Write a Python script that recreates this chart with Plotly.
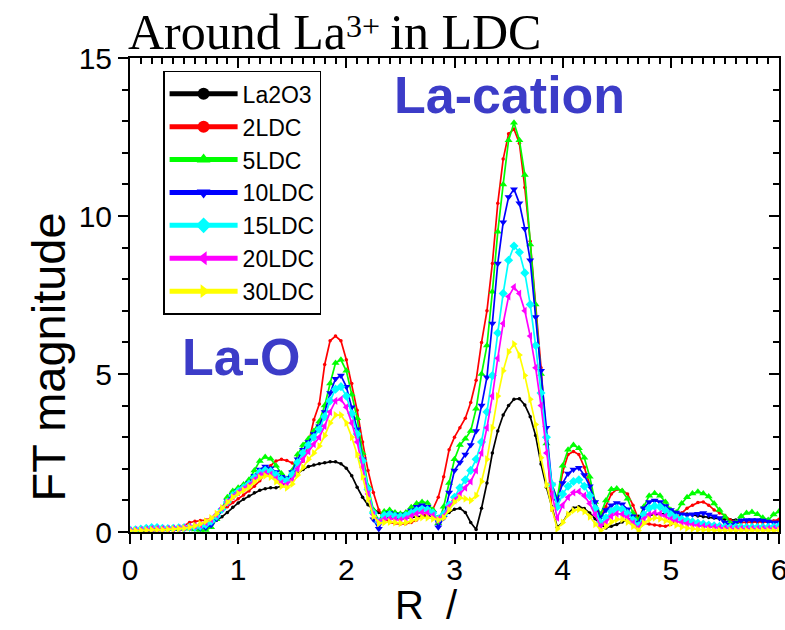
import numpy as np
import plotly.graph_objects as go

# Radial grid of the Fourier transform (R in Angstrom)
r_grid = np.round(np.arange(0, 6.0001, 0.05), 2)

la2o3 = [0.02, 0.03, 0.03, 0.04, 0.04, 0.05, 0.05, 0.05, 0.06, 0.07,
         0.08, 0.10, 0.13, 0.17, 0.22, 0.28, 0.37, 0.48, 0.62, 0.78,
         0.92, 1.04, 1.14, 1.24, 1.32, 1.37, 1.40, 1.40, 1.45, 1.58,
         1.72, 1.86, 1.98, 2.07, 2.12, 2.16, 2.19, 2.22, 2.22, 2.16,
         2.02, 1.78, 1.42, 1.10, 0.86, 0.72, 0.62, 0.52, 0.45, 0.42,
         0.42, 0.44, 0.47, 0.50, 0.52, 0.52, 0.50, 0.48, 0.55, 0.62,
         0.72, 0.75, 0.62, 0.30, 0.08, 0.75, 1.55, 2.50, 3.20, 3.70,
         4.00, 4.20, 4.22, 4.02, 3.65, 3.05, 2.15, 1.42, 0.80, 0.15,
         0.30, 0.58, 0.76, 0.80, 0.74, 0.60, 0.42, 0.24, 0.13, 0.18,
         0.24, 0.32, 0.40, 0.46, 0.50, 0.52, 0.54, 0.56, 0.58, 0.59,
         0.60, 0.60, 0.59, 0.57, 0.54, 0.51, 0.48, 0.46, 0.44, 0.42,
         0.40, 0.39, 0.38, 0.37, 0.36, 0.35, 0.34, 0.33, 0.33, 0.34,
         0.35]

ldc2 = [0.03, 0.04, 0.04, 0.05, 0.06, 0.06, 0.07, 0.08, 0.10, 0.14,
        0.20, 0.30, 0.34, 0.36, 0.38, 0.44, 0.55, 0.68, 0.80, 0.93,
        1.05, 1.17, 1.30, 1.45, 1.62, 1.85, 2.10, 2.25, 2.30, 2.26,
        2.18, 2.10, 2.25, 2.80, 3.55, 4.05, 5.30, 6.05, 6.20, 6.05,
        5.45, 4.70, 3.85, 2.85, 1.95, 1.25, 0.70, 0.45, 0.30, 0.27,
        0.25, 0.26, 0.30, 0.38, 0.48, 0.60, 0.72, 1.10, 1.75, 2.60,
        3.00, 3.30, 3.60, 4.10, 4.80, 6.00, 7.00, 8.50, 10.40, 11.80,
        12.60, 12.75, 12.30, 10.90, 9.20, 7.20, 5.20, 2.90, 0.70, 0.90,
        1.90, 2.45, 2.55, 2.45, 2.05, 1.50, 0.85, 0.45, 0.80, 1.20,
        1.35, 1.32, 1.20, 0.85, 0.40, 0.28, 0.25, 0.22, 0.20, 0.18,
        0.24, 0.40, 0.60, 0.75, 0.85, 0.93, 0.95, 0.85, 0.70, 0.60,
        0.52, 0.38, 0.32, 0.30, 0.30, 0.30, 0.30, 0.30, 0.32, 0.35,
        0.40]

ldc5 = [0.05, 0.06, 0.08, 0.10, 0.12, 0.14, 0.12, 0.10, 0.12, 0.15,
        0.13, 0.10, 0.08, 0.06, 0.06, 0.15, 0.40, 0.75, 1.10, 1.30,
        1.40, 1.50, 1.65, 1.95, 2.25, 2.37, 2.32, 2.10, 1.85, 1.68,
        1.95, 2.45, 2.75, 2.95, 3.20, 3.50, 4.00, 4.70, 5.35, 5.45,
        5.10, 4.35, 3.60, 2.50, 1.45, 0.70, 0.35, 0.65, 0.70, 0.62,
        0.58, 0.62, 0.78, 0.90, 0.95, 0.92, 0.70, 0.28, 0.80, 1.55,
        2.30, 2.75, 2.95, 3.20, 3.90, 5.00, 5.90, 7.60, 9.50, 11.00,
        12.40, 12.95, 12.40, 11.30, 9.10, 7.20, 5.00, 2.80, 1.50, 1.05,
        2.10, 2.60, 2.75, 2.65, 2.35, 1.75, 0.95, 0.55, 1.00, 1.35,
        1.38, 1.30, 1.05, 0.60, 0.38, 0.80, 1.15, 1.23, 1.15, 0.95,
        0.70, 0.62, 0.90, 1.10, 1.22, 1.27, 1.22, 1.12, 0.90, 0.70,
        0.48, 0.28, 0.30, 0.50, 0.60, 0.63, 0.56, 0.45, 0.38, 0.55,
        0.65]

ldc10 = [0.05, 0.06, 0.07, 0.08, 0.09, 0.10, 0.10, 0.10, 0.11, 0.12,
         0.13, 0.13, 0.12, 0.12, 0.14, 0.22, 0.42, 0.70, 0.98, 1.18,
         1.30, 1.42, 1.55, 1.78, 1.98, 2.07, 2.02, 1.90, 1.75, 1.70,
         1.90, 2.30, 2.60, 2.85, 3.10, 3.35, 3.80, 4.40, 4.85, 4.95,
         4.60, 3.95, 3.25, 2.30, 1.30, 0.40, 0.10, 0.50, 0.60, 0.55,
         0.50, 0.55, 0.68, 0.80, 0.85, 0.80, 0.60, 0.15, 0.45, 1.25,
         1.95, 2.20, 2.45, 2.75, 3.20, 4.00, 4.90, 6.60, 8.50, 9.80,
         10.60, 10.85, 10.40, 9.60, 8.60, 6.80, 5.10, 3.30, 1.50, 1.00,
         1.55, 1.85, 1.98, 2.03, 1.80, 1.45, 0.95, 0.45, 0.70, 0.85,
         0.92, 0.88, 0.72, 0.50, 0.28, 0.75, 0.95, 1.00, 0.95, 0.82,
         0.70, 0.62, 0.56, 0.54, 0.56, 0.58, 0.60, 0.55, 0.50, 0.44,
         0.30, 0.22, 0.30, 0.36, 0.38, 0.38, 0.38, 0.36, 0.33, 0.30,
         0.30]

ldc15 = [0.06, 0.07, 0.09, 0.12, 0.14, 0.14, 0.12, 0.11, 0.12, 0.13,
         0.14, 0.15, 0.16, 0.18, 0.24, 0.34, 0.50, 0.72, 0.95, 1.15,
         1.28, 1.40, 1.52, 1.72, 1.88, 1.95, 1.92, 1.80, 1.66, 1.62,
         1.82, 2.20, 2.50, 2.75, 3.00, 3.25, 3.65, 4.15, 4.52, 4.60,
         4.30, 3.75, 3.10, 2.25, 1.35, 0.60, 0.32, 0.52, 0.55, 0.50,
         0.48, 0.52, 0.60, 0.68, 0.72, 0.70, 0.60, 0.42, 0.55, 0.85,
         1.10, 1.40, 1.65, 1.95, 2.30, 2.85, 3.80, 4.95, 6.30, 7.55,
         8.60, 9.05, 8.85, 8.20, 7.20, 5.90, 4.40, 3.00, 1.50, 0.80,
         1.20, 1.45, 1.60, 1.65, 1.45, 1.15, 0.75, 0.30, 0.45, 0.65,
         0.75, 0.72, 0.58, 0.38, 0.20, 0.55, 0.75, 0.82, 0.80, 0.68,
         0.55, 0.45, 0.40, 0.36, 0.32, 0.28, 0.25, 0.22, 0.20, 0.18,
         0.16, 0.15, 0.15, 0.15, 0.15, 0.15, 0.15, 0.15, 0.15, 0.16,
         0.18]

ldc20 = [0.05, 0.06, 0.07, 0.08, 0.10, 0.10, 0.10, 0.10, 0.11, 0.12,
         0.14, 0.16, 0.19, 0.23, 0.30, 0.40, 0.55, 0.75, 0.95, 1.12,
         1.25, 1.36, 1.48, 1.65, 1.80, 1.86, 1.82, 1.68, 1.55, 1.50,
         1.65, 2.00, 2.30, 2.55, 2.78, 3.00, 3.35, 3.80, 4.15, 4.20,
         3.95, 3.45, 2.85, 2.05, 1.20, 0.55, 0.32, 0.40, 0.42, 0.40,
         0.38, 0.42, 0.50, 0.58, 0.62, 0.60, 0.52, 0.40, 0.50, 0.80,
         1.00, 1.20, 1.40, 1.60, 1.95, 2.50, 3.30, 4.30, 5.50, 6.60,
         7.45, 7.75, 7.55, 7.00, 6.20, 5.20, 4.00, 2.50, 1.20, 0.45,
         0.85, 1.10, 1.25, 1.28, 1.15, 0.90, 0.55, 0.18, 0.30, 0.50,
         0.58, 0.56, 0.45, 0.28, 0.12, 0.40, 0.55, 0.60, 0.58, 0.50,
         0.40, 0.34, 0.30, 0.26, 0.22, 0.20, 0.18, 0.16, 0.15, 0.13,
         0.12, 0.11, 0.10, 0.10, 0.10, 0.10, 0.10, 0.10, 0.10, 0.11,
         0.12]

ldc30 = [0.04, 0.05, 0.05, 0.06, 0.07, 0.07, 0.07, 0.08, 0.09, 0.10,
         0.12, 0.15, 0.20, 0.26, 0.34, 0.44, 0.58, 0.76, 0.94, 1.10,
         1.22, 1.32, 1.42, 1.58, 1.72, 1.78, 1.74, 1.60, 1.45, 1.40,
         1.52, 1.80, 2.05, 2.30, 2.50, 2.72, 3.05, 3.45, 3.70, 3.70,
         3.45, 3.00, 2.45, 1.75, 1.05, 0.50, 0.28, 0.30, 0.32, 0.30,
         0.28, 0.30, 0.36, 0.42, 0.46, 0.45, 0.42, 0.38, 0.45, 0.70,
         0.95, 1.08, 1.05, 1.00, 1.15, 1.60, 2.30, 3.30, 4.30, 5.10,
         5.70, 5.95, 5.60, 4.95, 4.20, 3.40, 2.35, 1.50, 0.75, 0.10,
         0.30, 0.55, 0.68, 0.72, 0.65, 0.48, 0.25, 0.05, 0.18, 0.32,
         0.40, 0.40, 0.32, 0.18, 0.05, 0.28, 0.40, 0.45, 0.42, 0.36,
         0.28, 0.22, 0.16, 0.12, 0.10, 0.08, 0.07, 0.06, 0.05, 0.05,
         0.05, 0.05, 0.05, 0.05, 0.05, 0.05, 0.05, 0.05, 0.05, 0.05,
         0.05]

series_names = ["La2O3", "2LDC", "5LDC", "10LDC", "15LDC", "20LDC", "30LDC"]
series_values = [la2o3, ldc2, ldc5, ldc10, ldc15, ldc20, ldc30]
series_colors = ["#000000", "#ff0000", "#00ff00", "#0000ff", "#00ffff", "#ff00ff", "#ffff00"]
series_symbols = ["circle", "circle", "triangle-up", "triangle-down", "diamond",
                  "triangle-left", "triangle-right"]
series_sizes = [3.5, 3.5, 7, 7, 7, 7, 7]

fig = go.Figure()
for name, vals, col, sym, sz in zip(series_names, series_values, series_colors,
                                    series_symbols, series_sizes):
    fig.add_trace(go.Scatter(
        x=r_grid, y=vals, name=name, mode="lines+markers",
        line=dict(color=col, width=1.7),
        marker=dict(color=col, symbol=sym, size=sz, line=dict(width=0)),
    ))

# empty traces that attach the mirrored top/right frame axes
fig.add_trace(go.Scatter(x=[], y=[], xaxis="x2", yaxis="y", showlegend=False, hoverinfo="skip"))
fig.add_trace(go.Scatter(x=[], y=[], xaxis="x", yaxis="y2", showlegend=False, hoverinfo="skip"))

tick_font = dict(family="Liberation Sans, Arial, sans-serif", size=30, color="black")
base_axis = dict(showgrid=False, zeroline=False, showline=True, linecolor="black",
                 linewidth=2, tickcolor="black", tickwidth=2, ticklen=10, automargin=False)

fig.update_layout(
    width=785, height=630,
    margin=dict(l=130, r=6, t=58, b=98),
    paper_bgcolor="white", plot_bgcolor="white",
    xaxis=dict(base_axis, range=[0, 6], dtick=1, tick0=0, ticks="outside",
               tickfont=tick_font, ticklabeloverflow="allow",
               minor=dict(dtick=0.1, ticks="outside", ticklen=6, tickwidth=1.5, tickcolor="black")),
    yaxis=dict(base_axis, range=[0, 15], dtick=5, tick0=0, ticks="outside",
               tickfont=tick_font,
               minor=dict(dtick=1, ticks="outside", ticklen=6, tickwidth=1.5, tickcolor="black")),
    xaxis2=dict(base_axis, range=[0, 6], dtick=1, tick0=0, ticks="inside",
                overlaying="x", side="top", anchor="y", showticklabels=False,
                minor=dict(dtick=0.1, ticks="inside", ticklen=6, tickwidth=1.5, tickcolor="black")),
    yaxis2=dict(base_axis, range=[0, 15], dtick=5, tick0=0, ticks="inside",
                overlaying="y", side="right", anchor="x", showticklabels=False,
                minor=dict(dtick=1, ticks="inside", ticklen=6, tickwidth=1.5, tickcolor="black")),
    legend=dict(x=0.051, y=0.973, xanchor="left", yanchor="top",
                bgcolor="white", bordercolor="black", borderwidth=1.5,
                font=dict(family="Liberation Sans, Arial, sans-serif", size=23, color="black"),
                itemwidth=68, itemsizing="constant"),
    showlegend=True,
)

title_font = dict(family="Liberation Serif, Times New Roman, serif", color="black")


def px_x(p):
    return (p - 130) / 649


# Title built from three pieces so the "3+" superscript sits at its own height
fig.add_annotation(text="Around La", xref="paper", yref="paper", x=px_x(126), y=1.0,
                   xanchor="left", yanchor="bottom", yshift=-4, showarrow=False,
                   font=dict(title_font, size=50))
fig.add_annotation(text="3+", xref="paper", yref="paper", x=px_x(344), y=1.0,
                   xanchor="left", yanchor="bottom", yshift=12, showarrow=False,
                   font=dict(title_font, size=32))
fig.add_annotation(text="in LDC", xref="paper", yref="paper", x=px_x(388), y=1.0,
                   xanchor="left", yanchor="bottom", yshift=-4, showarrow=False,
                   font=dict(title_font, size=50))

label_font = dict(family="Liberation Sans, Arial, sans-serif", color="black")
fig.add_annotation(text="FT magnitude", xref="paper", yref="paper", x=-0.125, y=0.37,
                   textangle=-90, showarrow=False, xanchor="center", yanchor="middle",
                   font=dict(label_font, size=47))
fig.add_annotation(text="R  /", xref="paper", yref="paper", x=px_x(393), y=-0.155,
                   xanchor="left", yanchor="middle", showarrow=False,
                   font=dict(label_font, size=40))
fig.add_annotation(text="<b>La-cation</b>", xref="paper", yref="paper", x=0.585, y=0.922,
                   xanchor="center", yanchor="middle", showarrow=False,
                   font=dict(family="Liberation Sans, Arial, sans-serif", size=52, color="#3c3cc8"))
fig.add_annotation(text="<b>La-O</b>", xref="paper", yref="paper", x=0.171, y=0.369,
                   xanchor="center", yanchor="middle", showarrow=False,
                   font=dict(family="Liberation Sans, Arial, sans-serif", size=52, color="#3c3cc8"))

fig.write_html("out.html")
